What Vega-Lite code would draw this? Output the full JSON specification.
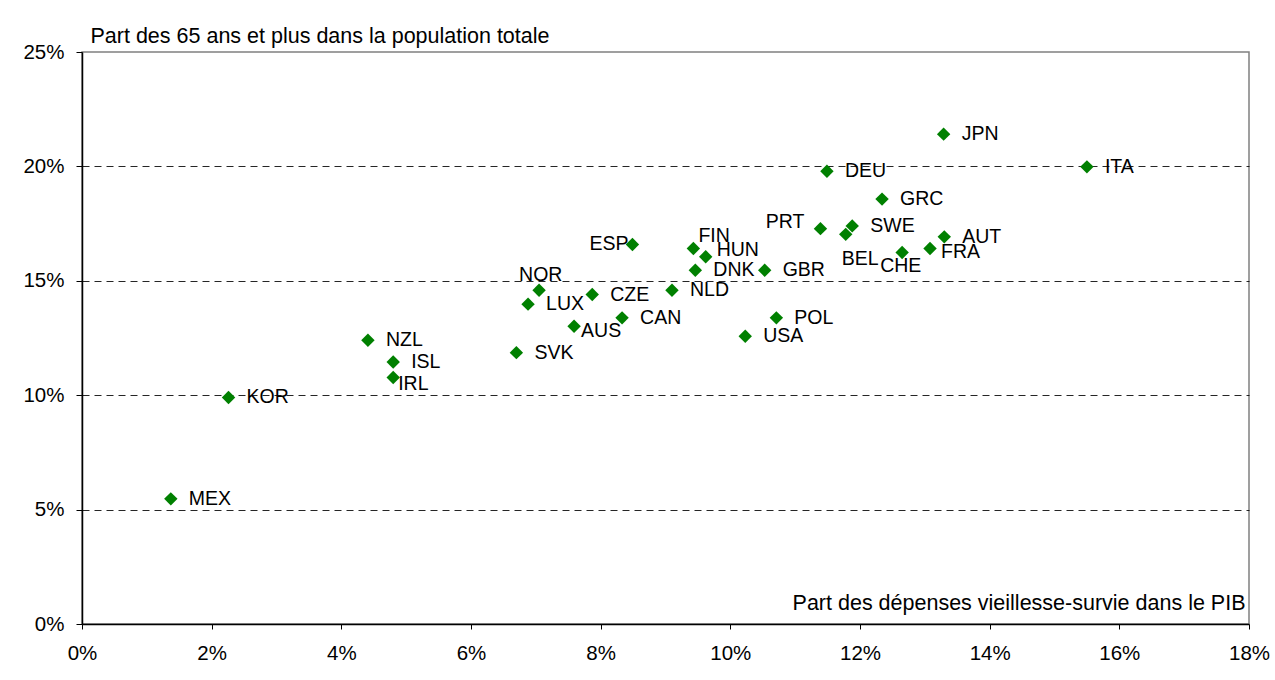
{
  "$schema": "https://vega.github.io/schema/vega-lite/v6.json",
  "width": 1167,
  "height": 572,
  "autosize": {"type": "none"},
  "padding": {"left": 82, "top": 52, "right": 26, "bottom": 56},
  "background": "white",
  "config": {
    "font": "Liberation Sans",
    "view": {"stroke": "#808080", "strokeWidth": 1.5},
    "text": {"font": "Liberation Sans", "fontSize": 19.5, "color": "#000000", "baseline": "middle", "align": "left"}
  },
  "data": {
    "values": [
      {"pays": "MEX", "depenses": 1.37, "part65": 5.47},
      {"pays": "KOR", "depenses": 2.26, "part65": 9.9},
      {"pays": "NZL", "depenses": 4.41, "part65": 12.4},
      {"pays": "ISL", "depenses": 4.8, "part65": 11.45},
      {"pays": "IRL", "depenses": 4.8, "part65": 10.77},
      {"pays": "SVK", "depenses": 6.7, "part65": 11.86},
      {"pays": "LUX", "depenses": 6.88, "part65": 13.98},
      {"pays": "NOR", "depenses": 7.05, "part65": 14.59},
      {"pays": "AUS", "depenses": 7.59, "part65": 13.01},
      {"pays": "CZE", "depenses": 7.87, "part65": 14.4},
      {"pays": "CAN", "depenses": 8.33, "part65": 13.38},
      {"pays": "ESP", "depenses": 8.49, "part65": 16.59},
      {"pays": "NLD", "depenses": 9.1, "part65": 14.59},
      {"pays": "FIN", "depenses": 9.43, "part65": 16.41},
      {"pays": "DNK", "depenses": 9.46, "part65": 15.46},
      {"pays": "HUN", "depenses": 9.62, "part65": 16.05},
      {"pays": "USA", "depenses": 10.23, "part65": 12.58},
      {"pays": "GBR", "depenses": 10.53, "part65": 15.46},
      {"pays": "POL", "depenses": 10.71, "part65": 13.38},
      {"pays": "PRT", "depenses": 11.39, "part65": 17.28},
      {"pays": "DEU", "depenses": 11.49, "part65": 19.79},
      {"pays": "BEL", "depenses": 11.78, "part65": 17.03},
      {"pays": "SWE", "depenses": 11.88, "part65": 17.4},
      {"pays": "GRC", "depenses": 12.34, "part65": 18.57},
      {"pays": "CHE", "depenses": 12.65, "part65": 16.24},
      {"pays": "FRA", "depenses": 13.08, "part65": 16.41},
      {"pays": "AUT", "depenses": 13.3, "part65": 16.92},
      {"pays": "JPN", "depenses": 13.29, "part65": 21.41},
      {"pays": "ITA", "depenses": 15.5, "part65": 19.98}
    ]
  },
  "encoding": {
    "x": {
      "field": "depenses",
      "type": "quantitative",
      "scale": {"domain": [0, 18], "nice": false, "zero": false},
      "axis": {
        "values": [0, 2, 4, 6, 8, 10, 12, 14, 16, 18],
        "labelExpr": "datum.value + '%'",
        "labelFont": "Liberation Sans",
        "labelFontSize": 20.5,
        "labelColor": "#000000",
        "labelPadding": 14,
        "labelFlush": false,
        "labelOverlap": false,
        "domainColor": "#000000",
        "domainWidth": 1.5,
        "tickColor": "#000000",
        "tickSize": 5,
        "tickWidth": 1,
        "grid": false,
        "title": "Part des dépenses vieillesse-survie dans le PIB",
        "titleFont": "Liberation Sans",
        "titleFontSize": 21.5,
        "titleFontWeight": "normal",
        "titleColor": "#000000",
        "titleAnchor": null,
        "titleAlign": "right",
        "titleBaseline": "middle",
        "titleX": 1163,
        "titleY": -21
      }
    },
    "y": {
      "field": "part65",
      "type": "quantitative",
      "scale": {"domain": [0, 25], "nice": false, "zero": false},
      "axis": {
        "values": [0, 5, 10, 15, 20, 25],
        "labelExpr": "datum.value + '%'",
        "labelFont": "Liberation Sans",
        "labelFontSize": 20.5,
        "labelColor": "#000000",
        "labelPadding": 12,
        "labelFlush": false,
        "labelOverlap": false,
        "domainColor": "#000000",
        "domainWidth": 1.5,
        "tickColor": "#000000",
        "tickSize": 6,
        "tickWidth": 1,
        "grid": true,
        "gridColor": "#000000",
        "gridDash": [7, 5],
        "gridWidth": 1,
        "gridOpacity": {"condition": {"test": "datum.value <= 0 || datum.value >= 25", "value": 0}, "value": 0.85},
        "title": "Part des 65 ans et plus dans la population totale",
        "titleFont": "Liberation Sans",
        "titleFontSize": 21.5,
        "titleFontWeight": "normal",
        "titleColor": "#000000",
        "titleAngle": 0,
        "titleAnchor": null,
        "titleAlign": "left",
        "titleBaseline": "middle",
        "titleX": 8,
        "titleY": -16
      }
    }
  },
  "layer": [
    {
      "mark": {"type": "point", "shape": "diamond", "filled": true, "size": 180, "color": "#008000", "opacity": 1}
    },
    {
      "transform": [{"filter": {"not": {"field": "pays", "oneOf": ["ESP", "PRT", "FIN", "HUN", "NOR", "AUS", "BEL", "CHE", "FRA", "IRL"]}}}],
      "mark": {"type": "text", "dx": 18, "dy": 0},
      "encoding": {"text": {"field": "pays"}}
    },
    {
      "transform": [{"filter": {"field": "pays", "equal": "ESP"}}],
      "mark": {"type": "text", "align": "right", "dx": -4, "dy": 0},
      "encoding": {"text": {"field": "pays"}}
    },
    {
      "transform": [{"filter": {"field": "pays", "equal": "PRT"}}],
      "mark": {"type": "text", "align": "right", "dx": -16, "dy": -7},
      "encoding": {"text": {"field": "pays"}}
    },
    {
      "transform": [{"filter": {"field": "pays", "equal": "FIN"}}],
      "mark": {"type": "text", "dx": 5, "dy": -13},
      "encoding": {"text": {"field": "pays"}}
    },
    {
      "transform": [{"filter": {"field": "pays", "equal": "HUN"}}],
      "mark": {"type": "text", "dx": 11, "dy": -7},
      "encoding": {"text": {"field": "pays"}}
    },
    {
      "transform": [{"filter": {"field": "pays", "equal": "NOR"}}],
      "mark": {"type": "text", "dx": -20, "dy": -15},
      "encoding": {"text": {"field": "pays"}}
    },
    {
      "transform": [{"filter": {"field": "pays", "equal": "AUS"}}],
      "mark": {"type": "text", "dx": 7, "dy": 5},
      "encoding": {"text": {"field": "pays"}}
    },
    {
      "transform": [{"filter": {"field": "pays", "equal": "BEL"}}],
      "mark": {"type": "text", "dx": -4, "dy": 25},
      "encoding": {"text": {"field": "pays"}}
    },
    {
      "transform": [{"filter": {"field": "pays", "equal": "CHE"}}],
      "mark": {"type": "text", "dx": -22, "dy": 14},
      "encoding": {"text": {"field": "pays"}}
    },
    {
      "transform": [{"filter": {"field": "pays", "equal": "FRA"}}],
      "mark": {"type": "text", "dx": 11, "dy": 3},
      "encoding": {"text": {"field": "pays"}}
    },
    {
      "transform": [{"filter": {"field": "pays", "equal": "IRL"}}],
      "mark": {"type": "text", "dx": 5, "dy": 6},
      "encoding": {"text": {"field": "pays"}}
    }
  ]
}
